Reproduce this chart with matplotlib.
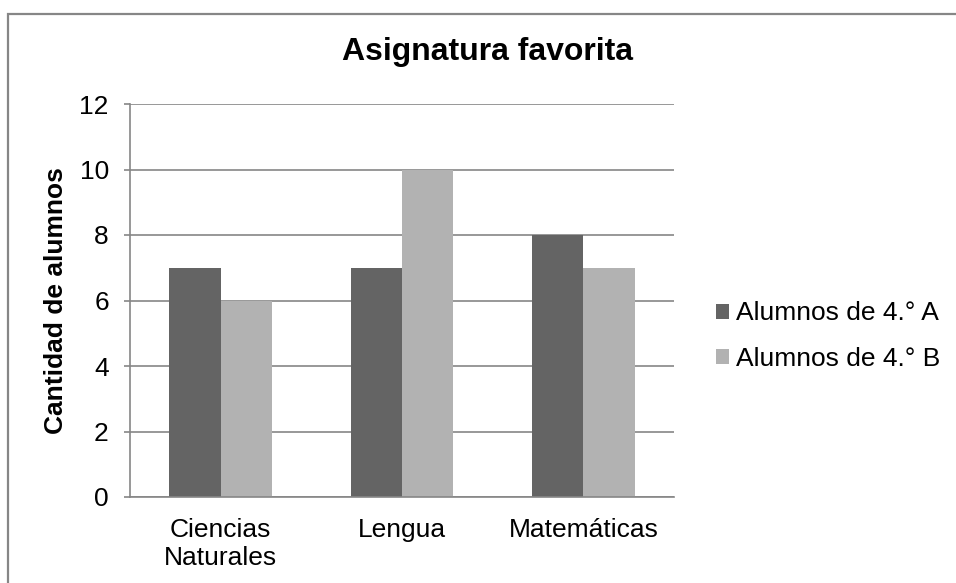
import matplotlib
matplotlib.use("Agg")
import matplotlib.pyplot as plt
import numpy as np
from matplotlib.patches import Rectangle, Patch

plt.rcParams['font.family'] = ['Liberation Sans', 'DejaVu Sans']

categories = ["Ciencias\nNaturales", "Lengua", "Matemáticas"]
series_names = ["Alumnos de 4.° A", "Alumnos de 4.° B"]
values_a = [7, 7, 8]
values_b = [6, 10, 7]
yticks = [0, 2, 4, 6, 8, 10, 12]

dark = "#646464"
light = "#b2b2b2"
grid_col = "#868686"

fig = plt.figure(figsize=(9.56, 5.83), dpi=100)
ax = fig.add_axes([130/956, 86/583, 544/956, 393/583])

x = np.arange(len(categories))
w = 0.284
ax.bar(x - w/2, values_a, width=w, color=dark, zorder=3)
ax.bar(x + w/2, values_b, width=w, color=light, zorder=3)

ax.set_xlim(-0.5, len(categories) - 0.5)
ax.set_ylim(0, 12)
ax.set_yticks(yticks)
ax.set_yticklabels([str(t) for t in yticks], fontsize=19)
ax.set_xticks(x)
ax.set_xticklabels(categories, fontsize=19, linespacing=1.2)
ax.tick_params(axis='x', length=0, pad=15)
ax.tick_params(axis='y', length=4.3, width=1.2, color=grid_col, pad=11)
ax.yaxis.grid(True, color=grid_col, linewidth=1.2, zorder=0)

for side in ['top', 'right']:
    ax.spines[side].set_visible(False)
ax.spines['left'].set_color(grid_col)
ax.spines['left'].set_linewidth(1.2)
ax.spines['bottom'].set_color(grid_col)
ax.spines['bottom'].set_linewidth(1.2)
ax.spines['bottom'].set_zorder(4)

ax.set_ylabel("Cantidad de alumnos", fontsize=19, fontweight='bold', labelpad=8)
fig.text(488/956, 1 - 52/583, "Asignatura favorita", fontsize=23, fontweight='bold',
         ha='center', va='center')

handles = [Patch(facecolor=dark, edgecolor='none'), Patch(facecolor=light, edgecolor='none')]
fig.legend(handles, series_names, loc='center left', bbox_to_anchor=(692/956, 1 - 336/583),
           frameon=False, fontsize=19, handlelength=0.5, handleheight=0.5,
           handletextpad=0.28, labelspacing=0.8)

# outer chart frame
fig.patches.append(Rectangle((8/956, -0.1), 1.2, 1 - 14/583 + 0.1, transform=fig.transFigure,
                             fill=False, edgecolor=grid_col, linewidth=1.6, clip_on=False))

fig.savefig("out.png", dpi=100)
